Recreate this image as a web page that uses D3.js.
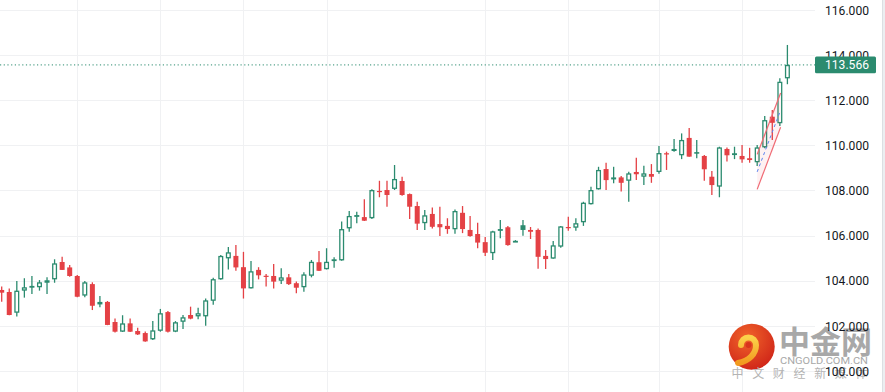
<!DOCTYPE html>
<html><head><meta charset="utf-8">
<script src="https://cdn.jsdelivr.net/npm/d3@7"></script>
<style>html,body{margin:0;padding:0;background:#fff;overflow:hidden}svg{display:block}</style>
</head><body><svg id="c" width="885" height="392"></svg>
<script>
// ---- data ----
const openP  = [103.59,103.50,102.58,103.56,103.69,103.71,103.91,104.06,104.83,104.59,104.21,103.34,103.85,102.95,103.06,102.17,101.74,102.11,101.77,101.68,101.40,101.78,102.61,101.74,102.18,102.48,102.42,102.42,103.11,104.06,104.99,105.10,104.60,103.66,104.48,104.22,104.21,104.00,104.15,103.89,103.71,104.22,104.82,104.51,104.89,104.90,106.32,106.84,106.82,106.77,107.98,108.02,108.07,108.42,107.84,107.31,106.55,106.96,106.51,106.43,106.28,107.01,106.25,106.07,105.71,105.22,106.22,106.37,105.73,106.46,106.25,106.25,105.10,104.98,105.51,106.38,106.35,106.59,107.39,108.05,108.95,108.49,108.58,108.43,108.82,108.61,108.73,108.82,109.65,109.84,109.56,110.33,109.70,109.53,108.61,108.17,109.84,109.65,109.53,109.43,109.25,109.91,111.27,110.98,112.97];
const highP  = [103.74,103.66,103.99,104.11,104.21,104.03,104.15,104.95,105.06,104.70,104.25,103.99,103.93,103.32,103.10,102.33,102.47,102.33,101.92,101.75,102.21,102.75,102.66,102.21,102.48,102.85,102.80,103.21,104.13,105.14,105.49,105.58,105.28,104.87,104.60,104.30,104.74,104.55,104.30,103.96,104.37,104.92,105.32,105.44,105.04,106.62,107.09,107.06,107.61,108.05,108.43,108.43,109.13,108.61,107.87,107.50,107.13,107.25,107.28,106.77,107.16,107.31,106.87,106.57,105.94,106.21,106.69,106.43,105.80,106.69,106.38,106.31,105.36,105.76,106.43,106.84,106.77,107.50,108.17,109.05,109.23,109.05,108.64,108.83,109.45,109.10,109.17,109.97,109.72,110.28,110.53,110.77,110.24,109.57,108.86,109.94,109.91,109.94,110.02,109.89,110.02,111.30,111.57,112.97,114.45];
const lowP   = [103.07,102.47,102.41,103.25,103.41,103.56,103.41,103.91,104.47,104.18,103.27,103.27,102.70,102.82,102.03,101.70,101.73,101.73,101.59,101.30,101.37,101.74,101.71,101.72,101.86,102.29,102.29,102.00,102.94,104.04,104.50,104.44,103.21,103.65,104.06,103.74,103.66,103.85,103.81,103.44,103.51,104.15,104.43,104.50,104.58,104.89,106.17,106.55,106.65,106.74,107.70,107.28,108.02,107.77,106.74,106.25,106.25,106.31,105.98,106.08,106.08,106.11,105.95,105.44,105.10,104.92,105.88,105.55,105.72,105.99,105.85,104.53,104.52,104.97,105.46,106.22,106.22,106.43,107.38,108.04,108.02,108.32,107.95,107.50,108.46,108.24,108.34,108.74,108.91,109.72,109.39,109.49,109.43,108.43,107.80,107.70,109.28,109.39,109.23,109.23,109.08,109.87,110.24,110.86,112.71];
const closeP = [103.47,102.48,103.56,103.71,103.77,103.93,104.02,104.77,104.48,104.21,103.29,103.93,102.89,103.06,102.04,101.74,102.11,101.74,101.62,101.31,101.80,102.56,101.74,102.16,102.38,102.32,102.56,103.13,104.07,105.10,105.26,104.59,103.66,104.42,104.24,104.18,103.96,104.15,103.85,103.69,104.28,104.84,104.44,104.84,104.95,106.29,106.87,106.91,106.66,108.02,107.93,107.80,108.51,107.80,107.28,106.53,106.90,106.39,106.37,106.29,107.09,106.29,105.98,105.69,105.24,106.19,106.29,105.58,105.77,106.25,106.17,105.06,104.96,105.57,106.41,106.34,106.55,107.46,108.02,108.91,108.46,108.58,108.34,108.76,108.72,108.76,108.61,109.66,109.60,109.75,110.24,109.50,109.63,108.94,108.24,109.91,109.56,109.57,109.38,109.35,109.91,111.12,111.00,112.82,113.566];
const yTicks = [100,102,104,106,108,110,112,114,116];
const gridIdx = [10,21,32,43,64,75,87,98];
const lastPrice = 113.566;
const chanLower = [[100,108.05],[103.1,110.80]];
const chanUpper = [[100,109.60],[103.1,112.32]];

// ---- chart ----
const W=885,H=392, plotRight=815;
const up="#2b8b6f", down="#e44145";
const svg=d3.select("#c");
const x=d3.scaleLinear().domain([0,closeP.length-1]).range([1.7,787.4]);
const y=d3.scaleLinear().domain([100,116]).range([370.96,10]);

const grid=svg.append("g");
grid.selectAll("line.h").data(yTicks).join("line")
  .attr("x1",0).attr("x2",plotRight).attr("y1",d=>Math.round(y(d))+0.5).attr("y2",d=>Math.round(y(d))+0.5)
  .attr("stroke","#f0f1f3").attr("stroke-width",1);
grid.selectAll("line.v").data(gridIdx).join("line")
  .attr("y1",0).attr("y2",H).attr("x1",d=>Math.round(x(d))+0.5).attr("x2",d=>Math.round(x(d))+0.5)
  .attr("stroke","#f0f1f3").attr("stroke-width",1);

// watermark
const wm=svg.append("g");
const defs=svg.append("defs");
const rg=defs.append("radialGradient").attr("id","lg").attr("cx","40%").attr("cy","30%").attr("r","75%");
rg.append("stop").attr("offset","0%").attr("stop-color","#f0642a");
rg.append("stop").attr("offset","100%").attr("stop-color","#cf2418");
const yg=defs.append("linearGradient").attr("id","yg").attr("x1","0").attr("y1","0").attr("x2","0").attr("y2","1");
yg.append("stop").attr("offset","0%").attr("stop-color","#fbd24a");
yg.append("stop").attr("offset","100%").attr("stop-color","#f29a1f");
wm.append("circle").attr("cx",751.7).attr("cy",346.7).attr("r",23).attr("fill","url(#lg)");
wm.append("path").attr("d","M741,345 a7.5,7.5 0 1,1 15,0 c0,9 -7,16 -18,18")
  .attr("fill","none").attr("stroke","url(#yg)").attr("stroke-width",6).attr("stroke-linecap","round");
wm.append("circle").attr("cx",748.5).attr("cy",345).attr("r",3).attr("fill","#d8341d");
wm.append("text").attr("x",779).attr("y",353).text("中金网")
  .attr("font-family","'Noto Sans CJK SC'").attr("font-weight",700).attr("font-size",31).attr("fill","#a8a8a8");
wm.append("text").attr("x",780).attr("y",364).text("CNGOLD.COM.CN")
  .attr("font-family","Roboto").attr("font-size",9.5).attr("fill","#a8a8a8")
  .attr("textLength",88).attr("lengthAdjust","spacingAndGlyphs");
wm.append("text").attr("x",731.5).attr("y",377.5).text("中文财经新媒体")
  .attr("font-family","'Noto Sans CJK SC'").attr("font-size",12).attr("fill","#b4b4b4")
  .attr("textLength",136).attr("lengthAdjust","spacing");

// candles
const data=closeP.map((c,i)=>({i,o:openP[i],h:highP[i],l:lowP[i],c,pc:i?closeP[i-1]:openP[i]}));
const bw=5, sw=1.3;
const cg=svg.append("g");
data.forEach(d=>{
  const col = d.c>=d.pc ? up : down;
  const hollow = d.c>d.o;
  const cx=x(d.i);
  cg.append("line").attr("x1",cx).attr("x2",cx).attr("y1",y(d.h)).attr("y2",y(d.l))
    .attr("stroke",col).attr("stroke-width",1.3);
  const top=y(Math.max(d.o,d.c)), bot=y(Math.min(d.o,d.c));
  if(hollow){
    cg.append("rect").attr("x",cx-bw/2+sw/2).attr("y",top+sw/2).attr("width",bw-sw)
      .attr("height",Math.max(0.5,bot-top-sw)).attr("fill","#fff").attr("stroke",col).attr("stroke-width",sw);
  } else {
    cg.append("rect").attr("x",cx-bw/2).attr("y",top).attr("width",bw)
      .attr("height",Math.max(1.2,bot-top)).attr("fill",col);
  }
});

// parallel channel drawing
const lineGen=d3.line().x(d=>x(d[0])).y(d=>y(d[1]));
const poly=[chanLower[0],chanLower[1],chanUpper[1],chanUpper[0]];
svg.append("path").attr("d",lineGen(poly)+"Z").attr("fill","rgba(242,54,69,0.07)");
const mid=chanLower.map((p,k)=>[p[0],(p[1]+chanUpper[k][1])/2]);
svg.append("path").attr("d",lineGen(mid)).attr("stroke","#5b83f0").attr("stroke-width",1).attr("stroke-dasharray","3,3").attr("fill","none");
[chanLower,chanUpper].forEach(c=>svg.append("path").attr("d",lineGen(c)).attr("stroke","#f06a74").attr("stroke-width",1.2).attr("fill","none"));

// last price line
svg.append("line").attr("x1",0).attr("x2",plotRight).attr("y1",y(lastPrice)).attr("y2",y(lastPrice))
  .attr("stroke",up).attr("stroke-width",1).attr("stroke-dasharray","1.2,2.5");

// right axis
const ax=svg.append("g").attr("transform",`translate(825,0)`)
  .call(d3.axisRight(y).tickValues(yTicks).tickFormat(d3.format(".3f")).tickSize(0).tickPadding(0));
ax.select(".domain").remove();
ax.selectAll("text").attr("font-family","Roboto").attr("font-size",13).attr("fill","#131722")
  .attr("textLength",44).attr("lengthAdjust","spacingAndGlyphs");

// last price label
const ly=y(lastPrice);
svg.append("rect").attr("x",815).attr("y",ly-8.4).attr("width",61).attr("height",16.8).attr("rx",1.5).attr("fill",up);
svg.append("text").attr("x",825).attr("y",ly).attr("dy","0.35em").text(d3.format(".3f")(lastPrice))
  .attr("font-family","Roboto").attr("font-size",13).attr("fill","#fff")
  .attr("textLength",44).attr("lengthAdjust","spacingAndGlyphs");

// right edge strip
svg.append("rect").attr("x",882).attr("y",0).attr("width",3).attr("height",H).attr("fill","#eceef1");
svg.append("line").attr("x1",882.5).attr("x2",882.5).attr("y1",0).attr("y2",H).attr("stroke","#dcdfe3");
</script></body></html>
